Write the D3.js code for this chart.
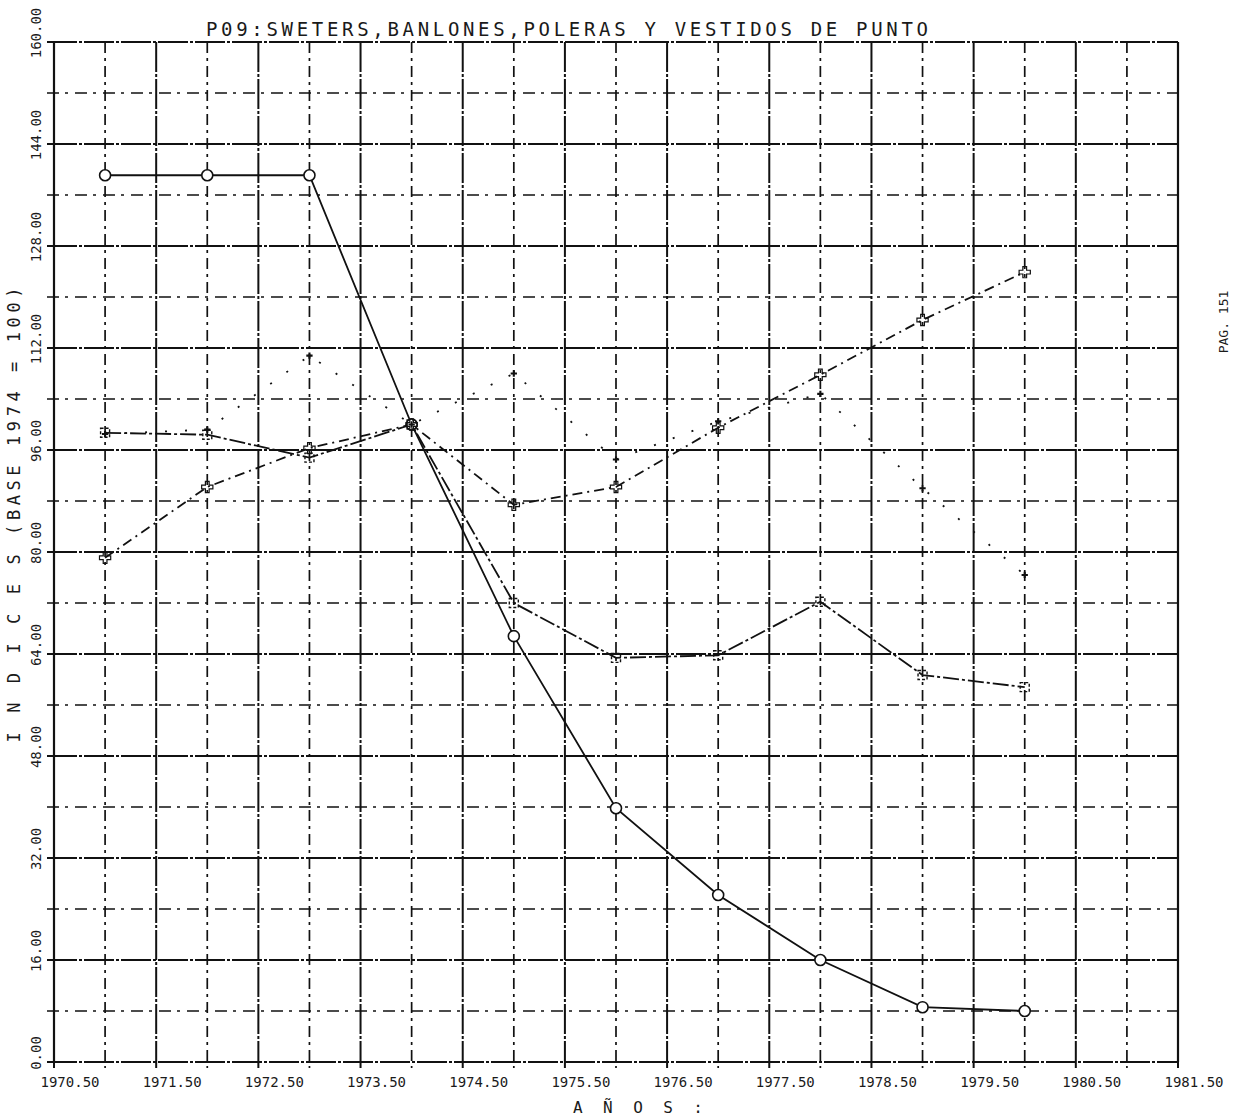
<!DOCTYPE html>
<html>
<head>
<meta charset="utf-8">
<script src="https://cdn.jsdelivr.net/npm/d3@7"></script>
<style>
  html, body { margin: 0; padding: 0; background: #fff; }
  svg { display: block; }
  text { font-family: "DejaVu Sans Mono", "Liberation Mono", monospace; fill: #1a1a1a; }
</style>
</head>
<body>
<svg id="chart" width="1234" height="1120"></svg>
<script>
// ---- data ----
const years = [1971, 1972, 1973, 1974, 1975, 1976, 1977, 1978, 1979, 1980];
const serieC = [139.1, 139.1, 139.1, 100.0, 66.8, 39.8, 26.2, 16.0, 8.6, 8.0];   // solid, circles
const serieA = [98.7, 98.4, 94.8, 100.0, 72.0, 63.4, 63.8, 72.2, 60.7, 58.8];    // long dash-dot, squares
const serieB = [79.1, 90.2, 96.3, 100.0, 87.4, 90.2, 99.5, 107.8, 116.4, 123.9]; // dash-dot, crosses
const serieD = [98.5, 99.2, 110.8, 100.0, 108.0, 94.5, 100.5, 104.8, 90.0, 76.4]; // faint dotted
const xTickLabels = ["1970.50","1971.50","1972.50","1973.50","1974.50","1975.50",
                     "1976.50","1977.50","1978.50","1979.50","1980.50","1981.50"];
const yTickLabels = ["0.00","16.00","32.00","48.00","64.00","80.00",
                     "96.00","112.00","128.00","144.00","160.00"];
const titleText = "P09:SWETERS,BANLONES,POLERAS Y VESTIDOS DE PUNTO";
const yTitle = "I N D I C E S   (BASE 1974 = 100)";
const xTitle = "A Ñ O S :";
const sideNote = "PAG. 151";

// ---- scales ----
const svg = d3.select("#chart");
const x = d3.scaleLinear().domain([1970.5, 1981.5]).range([54, 1178]);
const y = d3.scaleLinear().domain([0, 160]).range([1062, 42]);

const ink = "#111";

// ---- grid ----
const g = svg.append("g");
const xGrid = d3.range(1970.5, 1981.51, 0.5);
const yGrid = d3.range(0, 160.01, 8);
const isMajorX = d => Math.abs(d % 1 - 0.5) < 1e-6;

g.selectAll("line.vg").data(xGrid).join("line")
  .attr("class", "vg")
  .attr("x1", d => x(d)).attr("x2", d => x(d))
  .attr("y1", y(160)).attr("y2", y(0) + 6)
  .attr("stroke", ink)
  .attr("stroke-width", d => isMajorX(d) ? 2 : 1.7)
  .attr("stroke-dasharray", d => isMajorX(d) ? "30 2 3 2" : "11 5 3 5");

g.selectAll("line.hg").data(yGrid).join("line")
  .attr("class", "hg")
  .attr("x1", x(1970.5) - 7).attr("x2", x(1981.5))
  .attr("y1", d => y(d)).attr("y2", d => y(d))
  .attr("stroke", ink)
  .attr("stroke-width", d => (d % 16 === 0) ? 2 : 1.7)
  .attr("stroke-dasharray", d => (d % 16 === 0) ? "30 2 3 2" : "12 6 3 7");

// solid frame left / right
g.append("line").attr("x1", x(1970.5)).attr("x2", x(1970.5)).attr("y1", y(160)).attr("y2", y(0))
  .attr("stroke", ink).attr("stroke-width", 2.2);
g.append("line").attr("x1", x(1981.5)).attr("x2", x(1981.5)).attr("y1", y(160)).attr("y2", y(0))
  .attr("stroke", ink).attr("stroke-width", 2.2);

// ---- axis labels ----
const xTickVals = d3.range(1970.5, 1981.51, 1);
svg.append("g").selectAll("text").data(xTickVals).join("text")
  .attr("x", d => x(d) + 16).attr("y", 1087)
  .attr("text-anchor", "middle")
  .attr("font-size", 14)
  .text((d, i) => xTickLabels[i]);

const yTickVals = d3.range(0, 160.01, 16);
svg.append("g").selectAll("text").data(yTickVals).join("text")
  .attr("transform", d => `translate(41,${y(d) - 9}) rotate(-90)`)
  .attr("text-anchor", "middle")
  .attr("font-size", 14)
  .text((d, i) => yTickLabels[i]);

// titles
svg.append("text")
  .attr("x", 567).attr("y", 36)
  .attr("text-anchor", "middle")
  .attr("font-size", 19)
  .attr("textLength", 722).attr("lengthAdjust", "spacing")
  .text(titleText);

svg.append("text")
  .attr("transform", "translate(20,515) rotate(-90)")
  .attr("text-anchor", "middle")
  .attr("font-size", 17)
  .attr("textLength", 455).attr("lengthAdjust", "spacing")
  .text(yTitle);

svg.append("text")
  .attr("x", 638).attr("y", 1113)
  .attr("text-anchor", "middle")
  .attr("font-size", 16)
  .attr("textLength", 130).attr("lengthAdjust", "spacing")
  .text(xTitle);

svg.append("text")
  .attr("transform", "translate(1228,322) rotate(-90)")
  .attr("text-anchor", "middle")
  .attr("font-size", 13)
  .text(sideNote);

// ---- series ----
function series(vals, dash, width, curve) {
  const pts = years.map((yr, i) => [yr, vals[i]]);
  svg.append("path")
    .datum(pts)
    .attr("fill", "none")
    .attr("stroke", ink)
    .attr("stroke-width", width)
    .attr("stroke-dasharray", dash)
    .attr("d", d3.line().x(d => x(d[0])).y(d => y(d[1])).curve(curve || d3.curveLinear));
  return pts;
}

const ptsD = series(serieD, "2 18", 1.8);
const ptsB = series(serieB, "10 5 2 5", 1.8);
const ptsA = series(serieA, "16 3 3 3", 1.8);
const ptsC = series(serieC, null, 1.8);

// markers
svg.append("g").selectAll("circle").data(ptsC).join("circle")
  .attr("cx", d => x(d[0])).attr("cy", d => y(d[1])).attr("r", 5.5)
  .attr("fill", "#fff").attr("stroke", ink).attr("stroke-width", 1.6);

svg.append("g").selectAll("rect").data(ptsA).join("rect")
  .attr("x", d => x(d[0]) - 4.5).attr("y", d => y(d[1]) - 4.5)
  .attr("width", 9).attr("height", 9)
  .attr("fill", "none").attr("stroke", ink).attr("stroke-width", 1.4)
  .attr("stroke-dasharray", "3 2");

const cross = d3.symbol().type(d3.symbolCross).size(70);
svg.append("g").selectAll("path").data(ptsB).join("path")
  .attr("transform", d => `translate(${x(d[0])},${y(d[1])})`)
  .attr("d", cross)
  .attr("fill", "none").attr("stroke", ink).attr("stroke-width", 1.2);

svg.append("g").selectAll("path").data(ptsD).join("path")
  .attr("transform", d => `translate(${x(d[0])},${y(d[1])})`)
  .attr("d", d3.symbol().type(d3.symbolCross).size(22))
  .attr("fill", ink).attr("stroke", "none");
</script>
</body>
</html>
